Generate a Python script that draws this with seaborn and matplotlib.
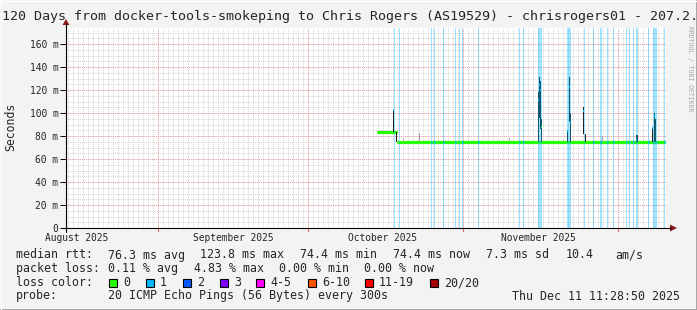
import numpy as np
import pandas as pd
import matplotlib
matplotlib.use("Agg")
import matplotlib.pyplot as plt
import seaborn as sns
from matplotlib.lines import Line2D
from matplotlib.patches import Rectangle, Polygon

# ---------------- data ----------------
title = "120 Days from docker-tools-smokeping to Chris Rogers (AS19529) - chrisrogers01 - 207.2."
month_line_days = [18.4, 48.4, 79.4, 110.4]
month_label_days = [2.2, 33.4, 63.4, 94.4]
month_labels = ["August 2025", "September 2025", "October 2025", "November 2025"]
y_ticks = [0, 20, 40, 60, 80, 100, 120, 140, 160]
y_tick_labels = ["0", "20 m", "40 m", "60 m", "80 m", "100 m", "120 m", "140 m", "160 m"]

# median rtt (ms) as constant segments (days since start)
median_seg_start = [62.3, 66.4]
median_seg_end = [66.0, 120.0]
median_seg_value = [83.8, 74.4]

# smoke spikes (one bin each)
spike_day = [65.5, 66.1, 67.4, 70.6, 88.8, 94.4, 94.6, 94.8, 95.0, 100.3, 100.6, 100.9,
             103.5, 103.8, 107.2, 114.0, 114.2, 117.3, 117.7, 117.9]
spike_low = [83.8, 74.4, 74.4, 74.4, 74.4, 75, 96, 86, 75, 75, 92, 75,
             82, 74.4, 74.4, 75, 75, 75, 75, 75]
spike_high = [103.5, 83.8, 78, 83, 78, 118, 131, 128, 95, 84, 131, 100,
              105, 82, 80, 81, 81, 87, 100, 95]
spike_median = [102.6, np.nan, np.nan, np.nan, np.nan, 111, 124, 120, 88, 84, 123, 92,
                102, np.nan, np.nan, 76.5, np.nan, 87, 97, np.nan]
spike_loss = [1, 0, 0, 0, 0, 1, 1, 1, 0, 1, 1, 1, 1, 0, 0, 1, 0, 1, 1, 0]
spike_gray = [0.12, 0.12, 0.7, 0.62, 0.7, 0.12, 0.12, 0.12, 0.12, 0.12, 0.12, 0.12,
              0.12, 0.12, 0.7, 0.12, 0.12, 0.12, 0.12, 0.12]

# bins with packet loss (1/20)
loss_days = [65.6, 66.8, 73.0, 73.7, 75.4, 77.9, 78.8, 79.2, 82.5, 90.7, 91.4,
             94.4, 94.6, 94.8, 95.0, 100.3, 100.5, 100.7, 100.9, 103.6, 105.4,
             106.9, 107.1, 108.2, 109.4, 112.1, 112.6, 113.4, 114.1, 114.3, 116.5,
             117.5, 117.7, 117.9, 118.1, 119.7]

loss_color_labels = ["0", "1", "2", "3", "4-5", "6-10", "11-19", "20/20"]
loss_colors = ["#26ff00", "#00b8ff", "#0059ff", "#7e00ff", "#ff00ff", "#ff5500", "#ff0000", "#a10000"]

legend_rtt = ["76.3 ms avg", "123.8 ms max", "74.4 ms min", "74.4 ms now", "7.3 ms sd", "10.4", "am/s"]
legend_loss = ["0.11 % avg", "4.83 % max", "0.00 % min", "0.00 % now"]
probe_text = "20 ICMP Echo Pings (56 Bytes) every 300s"
timestamp = "Thu Dec 11 11:28:50 2025"

# ---------------- figure ----------------
W, H = 697, 310
sns.set_theme(style="white")
plt.rcParams["font.family"] = ["DejaVu Sans Mono"]

fig = plt.figure(figsize=(W / 100, H / 100), dpi=100, facecolor="#f3f3f3")

def fx(px):
    return px / W

def fy(py):
    return 1 - py / H

X0, X1, YB, YT = 66, 666, 228, 28
YMAX = (YB - YT) / 1.15
ax = fig.add_axes([fx(X0), fy(YB), (X1 - X0) / W, (YB - YT) / H])
ax.set_facecolor("white")
ax.set_xlim(0, 120)
ax.set_ylim(0, YMAX)

# grid
dot = (0, (1, 1))
for d in np.arange(month_line_days[0] % 1, 120, 1.0):
    ax.axvline(d, color="#d4d4d4", lw=0.7, ls=dot, zorder=0)
for v in np.arange(5, YMAX, 5):
    ax.axhline(v, color="#d4d4d4", lw=0.7, ls=dot, zorder=0)
for v in y_ticks[1:]:
    ax.axhline(v, color="#eaa0a0", lw=0.7, ls=dot, zorder=0.5)
for d in month_line_days:
    ax.axvline(d, color="#eaa0a0", lw=0.7, ls=dot, zorder=0.5)
    ax.plot([d, d], [0, -3 / 1.15], color="#e06060", lw=0.8, clip_on=False)

# median line via seaborn
rows = []
for i, (s, e, v) in enumerate(zip(median_seg_start, median_seg_end, median_seg_value)):
    rows.append({"day": s, "rtt": v, "seg": i})
    rows.append({"day": e, "rtt": v, "seg": i})
df = pd.DataFrame(rows)
sns.lineplot(data=df, x="day", y="rtt", units="seg", estimator=None, color="#26ff00",
             lw=2.3, ax=ax, zorder=3, legend=False)

# smoke spikes
for d, lo, hi, g in zip(spike_day, spike_low, spike_high, spike_gray):
    ax.bar(d, hi - lo, bottom=lo, width=0.2, color=str(g), lw=0, zorder=4)
for d, m, l in zip(spike_day, spike_median, spike_loss):
    if not np.isnan(m):
        ax.plot([d - 0.1, d + 0.1], [m, m], color=loss_colors[l], lw=1.6, zorder=4.5,
                solid_capstyle="butt")

# loss bars
ax.bar(loss_days, [YMAX] * len(loss_days), bottom=0, width=0.2, color="#00b8ff",
       alpha=0.38, lw=0, zorder=5)
for d in loss_days:
    if min(abs(np.array(spike_day) - d)) > 0.15:
        idx = [i for i, s in enumerate(median_seg_start) if s <= d + 0.1]
        if idx:
            m = median_seg_value[idx[-1]]
            ax.plot([d - 0.1, d + 0.1], [m, m], color="#00b8ff", lw=2.3, zorder=4,
                    solid_capstyle="butt")

# axes styling
for s in ["top", "right", "left", "bottom"]:
    ax.spines[s].set_visible(False)
ax.set_yticks(y_ticks)
ax.set_yticklabels(y_tick_labels)
ax.set_xticks(month_label_days)
ax.set_xticklabels(month_labels)
ax.tick_params(axis="y", length=4, width=0.7, color="black", labelsize=6.9, pad=1.5,
               left=True)
ax.tick_params(axis="x", length=0, labelsize=6.9, pad=3.5)
ax.set_xlabel("")
ax.set_ylabel("")
fig.text(fx(11), fy(127), "Seconds", rotation=90, ha="center", va="center", fontsize=8.3)

# axis lines with arrows
fig.add_artist(Line2D([fx(62), fx(671)], [fy(228), fy(228)], color="black", lw=0.8))
fig.add_artist(Line2D([fx(66), fx(66)], [fy(232), fy(24)], color="black", lw=0.8))
fig.add_artist(Polygon([[fx(670), fy(224.5)], [fx(677), fy(228)], [fx(670), fy(231.5)]],
                       closed=True, color="#8b1a1a", lw=0))
fig.add_artist(Polygon([[fx(62.5), fy(25)], [fx(66), fy(19)], [fx(69.5), fy(25)]],
                       closed=True, color="#8b1a1a", lw=0))

# title and watermark
fig.text(fx(2), fy(20), title, fontsize=9.6, va="baseline", ha="left")
fig.text(fx(690), fy(26), "RRDTOOL / TOBI OETIKER", rotation=270, fontsize=4.7,
         color="#a8a8a8", ha="center", va="top")

# legend
FS = 8.4
r1, r2, r3, r4 = 255, 268.5, 282.5, 296
fig.text(fx(16), fy(r1), "median rtt:", fontsize=FS, va="center")
for x, t in zip([108, 200, 300, 393, 486, 566, 615], legend_rtt):
    fig.text(fx(x), fy(r1), t, fontsize=FS, va="center")
fig.text(fx(16), fy(r2), "packet loss:", fontsize=FS, va="center")
for x, t in zip([108, 194, 279, 364], legend_loss):
    fig.text(fx(x), fy(r2), t, fontsize=FS, va="center")
fig.text(fx(16), fy(r3), "loss color:", fontsize=FS, va="center")
for x, t, c in zip([109, 146, 183, 220, 256, 308, 365, 430], loss_color_labels, loss_colors):
    fig.add_artist(Rectangle((fx(x), fy(r3 + 4)), 8 / W, 8 / H, facecolor=c,
                             edgecolor="black", lw=0.8))
    fig.text(fx(x + 14), fy(r3), t, fontsize=FS, va="center")
fig.text(fx(16), fy(r4), "probe:", fontsize=FS, va="center")
fig.text(fx(108), fy(r4), probe_text, fontsize=FS, va="center")
fig.text(fx(680), fy(r4), timestamp, fontsize=FS, va="center", ha="right")

# border
fig.add_artist(Line2D([fx(696.5), fx(696.5)], [0, 1], color="#9a9a9a", lw=1.2))
fig.add_artist(Line2D([0, 1], [fy(309.5), fy(309.5)], color="#9a9a9a", lw=1.2))
fig.add_artist(Line2D([fx(0.5), fx(0.5)], [0, 1], color="#ffffff", lw=1.0))
fig.add_artist(Line2D([0, 1], [fy(0.5), fy(0.5)], color="#ffffff", lw=1.0))

fig.savefig("out.png", dpi=100, facecolor=fig.get_facecolor())
